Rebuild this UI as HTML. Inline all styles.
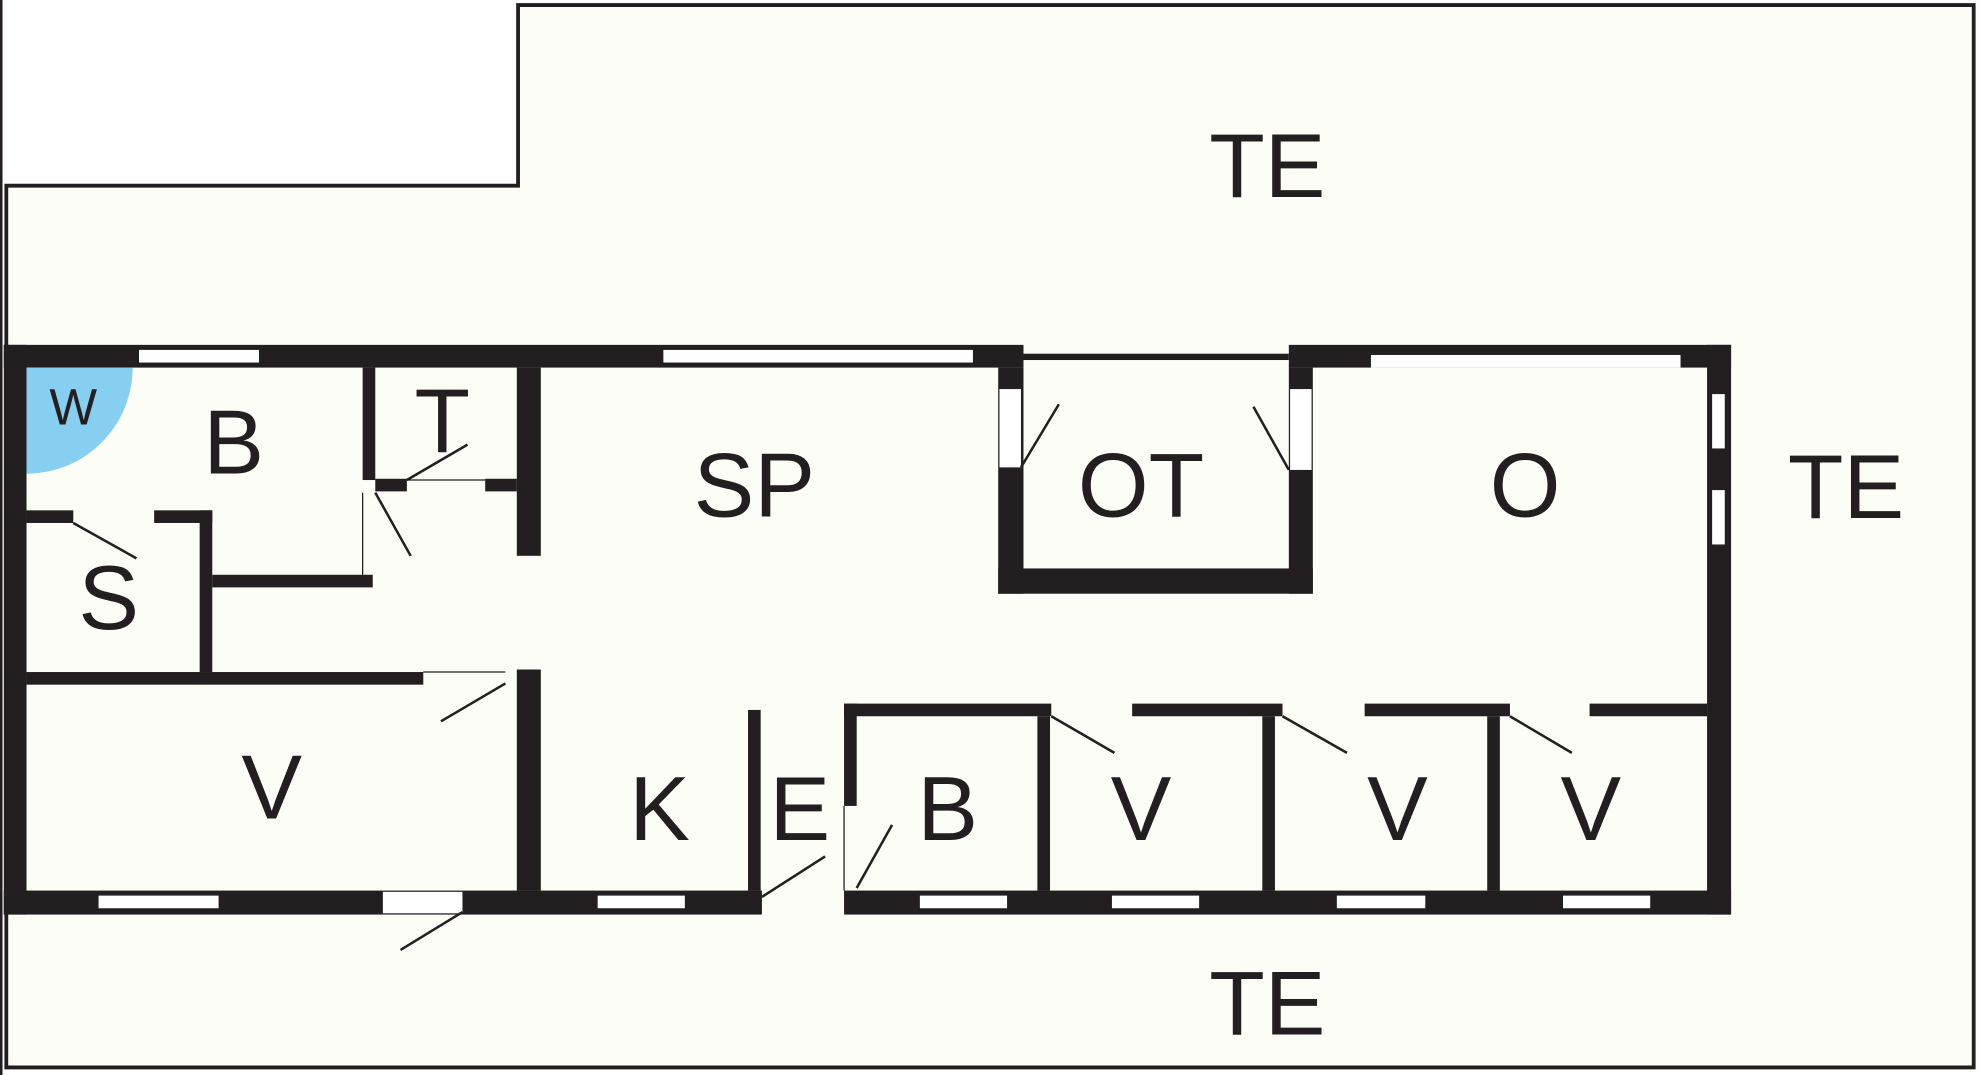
<!DOCTYPE html>
<html><head><style>html,body{margin:0;padding:0;background:#fff}svg{display:block}</style></head>
<body>
<svg width="1980" height="1075" viewBox="0 0 1567 851" preserveAspectRatio="none" xmlns="http://www.w3.org/2000/svg">
<rect width="1567" height="851" fill="#fff"/>
<polygon points="5,147 410,147 410,4 1562,4 1562,845 5,845" fill="#fdfdf8" stroke="#231f20" stroke-width="3"/>
<line x1="1" y1="0" x2="1" y2="851" stroke="#231f20" stroke-width="2"/>
<g fill="#231f20">
<!-- outer walls -->
<rect x="3" y="273" width="807" height="18"/>
<rect x="810" y="280" width="210" height="5"/>
<rect x="1020" y="273" width="350" height="18"/>
<rect x="3" y="273" width="18" height="451"/>
<rect x="3" y="705" width="600" height="19"/>
<rect x="668" y="705" width="702" height="19"/>
<rect x="1351" y="273" width="19" height="451"/>
<!-- interior -->
<rect x="287" y="291" width="10" height="89"/>
<rect x="409" y="291" width="19" height="149"/>
<rect x="297" y="379" width="25" height="10"/>
<rect x="384" y="379" width="25" height="10"/>
<rect x="168" y="455" width="127" height="10"/>
<rect x="21" y="404" width="37" height="10"/>
<rect x="122" y="404" width="46" height="10"/>
<rect x="158" y="404" width="10" height="128"/>
<rect x="21" y="532" width="314" height="10"/>
<rect x="409" y="530" width="19" height="175"/>
<rect x="592" y="562" width="10" height="143"/>
<rect x="668" y="557" width="10" height="81"/>
<rect x="668" y="557" width="164" height="10"/>
<rect x="896" y="557" width="119" height="10"/>
<rect x="1080" y="557" width="115" height="10"/>
<rect x="1258" y="557" width="93" height="10"/>
<rect x="821" y="567" width="10" height="138"/>
<rect x="999" y="567" width="10" height="138"/>
<rect x="1177" y="567" width="10" height="138"/>
<rect x="790" y="291" width="20" height="179"/>
<rect x="790" y="450" width="249" height="20"/>
<rect x="1020" y="291" width="19" height="179"/>
</g>
<g fill="#fff">
<rect x="110" y="277" width="95" height="10"/>
<rect x="525" y="277" width="245" height="10"/>
<rect x="1085" y="281" width="245" height="10"/>
<rect x="78" y="709" width="95" height="10"/>
<rect x="473" y="709" width="69" height="10"/>
<rect x="728" y="709" width="69" height="10"/>
<rect x="880" y="709" width="69" height="10"/>
<rect x="1058" y="709" width="70" height="10"/>
<rect x="1237" y="709" width="69" height="10"/>
<rect x="1355" y="312" width="10" height="43"/>
<rect x="1355" y="388" width="10" height="43"/>
<rect x="791" y="308" width="17" height="62"/>
<rect x="1021" y="308" width="17" height="64"/>
<rect x="303" y="706" width="63" height="17"/>
</g>
<circle cx="21" cy="291" r="0" />
<path d="M21,291 L105,291 A84,84 0 0 1 21,375 Z" fill="#87cff0"/>
<g stroke="#231f20" stroke-width="2" fill="none">
<line x1="808" y1="370" x2="838" y2="320"/>
<line x1="1020" y1="372" x2="992" y2="322"/>
<line x1="322" y1="380" x2="370" y2="352"/>
<line x1="297" y1="390" x2="325" y2="440"/>
<line x1="58" y1="414" x2="108" y2="442"/>
<line x1="349" y1="571" x2="400" y2="541"/>
<line x1="317" y1="752" x2="366" y2="722"/>
<line x1="603" y1="710" x2="653" y2="678"/>
<line x1="678" y1="703" x2="706" y2="653"/>
<line x1="832" y1="567" x2="882" y2="596"/>
<line x1="1015" y1="567" x2="1066" y2="596"/>
<line x1="1195" y1="567" x2="1244" y2="596"/>
<line x1="287" y1="390" x2="287" y2="455" stroke-width="1"/>
<line x1="335" y1="532" x2="400" y2="532" stroke-width="1"/>
<line x1="322" y1="380" x2="384" y2="380" stroke-width="1"/>
<line x1="668" y1="638" x2="668" y2="705" stroke-width="1"/>
</g>
<g font-family="Liberation Sans, sans-serif" font-size="72" fill="#231f20" text-anchor="middle">
<text x="1003" y="156">TE</text>
<text x="1461" y="410">TE</text>
<text x="1003" y="819">TE</text>
<text x="597" y="409">SP</text>
<text x="903" y="409">OT</text>
<text x="1207" y="409">O</text>
<text x="185" y="375">B</text>
<text x="350" y="358">T</text>
<text x="86" y="498">S</text>
<text x="215" y="648">V</text>
<text x="522" y="665">K</text>
<text x="633" y="665">E</text>
<text x="750" y="665">B</text>
<text x="903" y="665">V</text>
<text x="1106" y="665">V</text>
<text x="1259" y="665">V</text>
<text x="58" y="336" font-size="40">W</text>
</g>
</svg>
</body></html>
